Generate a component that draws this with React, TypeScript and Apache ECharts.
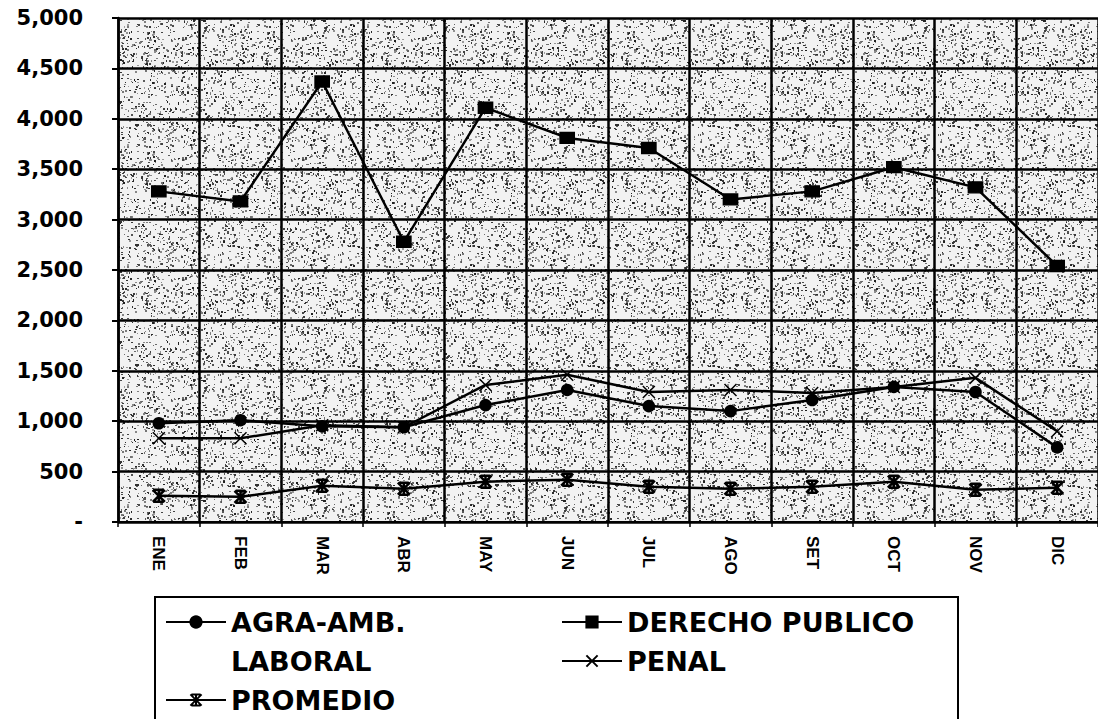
import React, { useEffect, useRef } from "react";
import * as echarts from "echarts";

const months = ["ENE", "FEB", "MAR", "ABR", "MAY", "JUN", "JUL", "AGO", "SET", "OCT", "NOV", "DIC"];
const agraAmb = [980, 1010, 950, 940, 1160, 1310, 1150, 1100, 1210, 1340, 1290, 740];
const derechoPublico = [3280, 3180, 4370, 2780, 4110, 3810, 3710, 3200, 3280, 3520, 3320, 2540];
const laboral: (number | null)[] = [null, null, null, null, null, null, null, null, null, null, null, null];
const penal = [830, 830, 960, 940, 1360, 1460, 1290, 1310, 1280, 1340, 1430, 900];
const promedio = [260, 250, 360, 330, 400, 420, 350, 330, 350, 400, 320, 340];

const X_SYMBOL = "path://M0,0L10,10M10,0L0,10";
const STAR_SYMBOL = "path://M0,0L10,10M10,0L0,10M1,0L9,0M1,10L9,10M5,0L5,10";

function makePattern(): HTMLCanvasElement {
  const c = document.createElement("canvas");
  const N = 120;
  c.width = N;
  c.height = N;
  const ctx = c.getContext("2d")!;
  ctx.fillStyle = "#f2f2f2";
  ctx.fillRect(0, 0, N, N);
  // deterministic speckle texture (LCG), purely decorative
  let s = 987654;
  const next = () => {
    s = (s * 1103515245 + 12345) & 0x7fffffff;
    return s / 0x7fffffff;
  };
  for (let i = 0; i < 1100; i++) {
    const x = Math.floor(next() * N);
    const y = Math.floor(next() * N);
    const g = 30 + Math.floor(next() * 130);
    ctx.fillStyle = `rgb(${g},${g},${g})`;
    const w = next() > 0.45 ? 2 : 1;
    const h = next() > 0.45 ? 2 : 1;
    ctx.fillRect(x, y, w, h);
  }
  return c;
}

export default function App() {
  const ref = useRef<HTMLDivElement>(null);
  useEffect(() => {
    if (!ref.current) return;
    const chart = echarts.init(ref.current, undefined, { renderer: "svg" });
    const line = (name: string, data: (number | null)[], symbol: string, size: any, extra: any = {}) => ({
      name,
      type: "line",
      data,
      symbol,
      symbolSize: size,
      showAllSymbol: true,
      lineStyle: { color: "#000", width: 2.5 },
      itemStyle: { color: "#000", borderColor: "#000", borderWidth: 1.5 },
      z: 3,
      ...extra,
    });
    chart.setOption({
      animation: false,
      backgroundColor: "#ffffff",
      textStyle: { fontFamily: "Liberation Sans, Arial, sans-serif" },
      grid: {
        left: 118,
        right: -5,
        top: 18,
        bottom: 197,
        show: true,
        backgroundColor: { image: makePattern(), repeat: "repeat" } as any,
        borderWidth: 0,
      },
      xAxis: {
        type: "category",
        data: months,
        boundaryGap: true,
        axisLine: { lineStyle: { color: "#000", width: 2 } },
        axisTick: { show: true, length: 5, lineStyle: { color: "#000", width: 1.5 } },
        splitLine: { show: true, lineStyle: { color: "#000", width: 2.5 } },
        axisLabel: {
          rotate: -90,
          margin: 14,
          color: "#000",
          fontWeight: "bold",
          fontSize: 17,
          fontFamily: "Liberation Sans, Arial, sans-serif",
        },
      },
      yAxis: {
        type: "value",
        min: 0,
        max: 5000,
        interval: 500,
        axisLine: { show: true, lineStyle: { color: "#000", width: 2.5 } },
        axisTick: { show: true, length: 6, lineStyle: { color: "#000", width: 2 } },
        splitLine: { show: true, lineStyle: { color: "#000", width: 2.5 } },
        axisLabel: {
          margin: 35,
          color: "#000",
          fontWeight: "bold",
          fontSize: 21,
          fontFamily: "DejaVu Sans, sans-serif",
          formatter: (v: number) => (v === 0 ? "-" : v.toLocaleString("en-US")),
        },
      },
      legend: {
        left: 155,
        top: 597,
        width: 805,
        orient: "horizontal",
        padding: [10, 10, 30, 10],
        itemGap: 9,
        itemWidth: 60,
        itemHeight: 14,
        borderColor: "#000",
        borderWidth: 2,
        backgroundColor: "#fff",
        selectedMode: false,
        textStyle: {
          color: "#000",
          fontWeight: "bold",
          fontSize: 27,
          fontFamily: "DejaVu Sans, sans-serif",
          width: 321,
          lineHeight: 30,
        },
        data: ["AGRA-AMB.", "DERECHO PUBLICO", "LABORAL", "PENAL", "PROMEDIO"],
      },
      series: [
        line("AGRA-AMB.", agraAmb, "circle", 11),
        line("DERECHO PUBLICO", derechoPublico, "rect", [14, 11]),
        line("LABORAL", laboral, "none", 1, {
          lineStyle: { color: "rgba(0,0,0,0)", width: 0, opacity: 0 },
          itemStyle: { color: "rgba(0,0,0,0)", opacity: 0 },
        }),
        line("PENAL", penal, X_SYMBOL, 12, {
          itemStyle: { color: "none", borderColor: "#000", borderWidth: 1.5 },
        }),
        line("PROMEDIO", promedio, STAR_SYMBOL, 12, {
          itemStyle: { color: "none", borderColor: "#000", borderWidth: 2.5 },
        }),
      ],
    });
    return () => chart.dispose();
  }, []);
  return (
    <div
      ref={ref}
      style={{ position: "absolute", left: 0, top: 0, width: 1098, height: 719 }}
    />
  );
}
